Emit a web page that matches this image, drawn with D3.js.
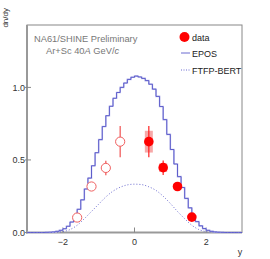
<!DOCTYPE html>
<html>
<head>
<meta charset="utf-8">
<script src="https://cdn.jsdelivr.net/npm/d3@7"></script>
<style>
  body { margin: 0; background: #fff; }
  text { font-family: "Liberation Sans", Arial, sans-serif; }
</style>
</head>
<body>
<div id="chart"></div>
<script>
// measured points (filled) and their reflection (open)
const dataX = [0.4, 0.8, 1.2, 1.6];
const dataY = [0.626, 0.447, 0.317, 0.106];
const dataStat = [0.108, 0.05, 0.022, 0.015];
const dataSys = [0.075, 0.03, 0.02, 0.012];
const reflX = [-0.4, -0.8, -1.2, -1.6];
const reflY = [0.626, 0.445, 0.317, 0.103];
const reflStat = [0.108, 0.05, 0.022, 0.015];

// EPOS histogram, 60 bins of 0.1 from -3 to 3
const eposBins = [
  0, 0, 0, 0, 0, 0.001, 0.002, 0.004, 0.008, 0.015,
  0.026, 0.043, 0.072, 0.108, 0.16, 0.225, 0.3, 0.375, 0.46, 0.55,
  0.64, 0.73, 0.805, 0.87, 0.925, 0.965, 1.0, 1.03, 1.055, 1.07,
  1.078, 1.072, 1.062, 1.047, 1.022, 0.988, 0.938, 0.868, 0.778, 0.676,
  0.572, 0.472, 0.385, 0.31, 0.235, 0.17, 0.115, 0.075, 0.046, 0.027,
  0.015, 0.008, 0.004, 0.002, 0.001, 0, 0, 0, 0, 0
];

// FTFP-BERT curve
const ftfpX = [-3, -2.4, -2.2, -2.0, -1.8, -1.6, -1.4, -1.2, -1.0, -0.8, -0.6, -0.4, -0.2, 0,
  0.2, 0.4, 0.6, 0.8, 1.0, 1.2, 1.4, 1.6, 1.8, 2.0, 2.2, 2.4, 3];
const ftfpY = [0, 0, 0.002, 0.006, 0.02, 0.05, 0.095, 0.145, 0.195, 0.245, 0.285, 0.312, 0.328, 0.333,
  0.33, 0.315, 0.29, 0.25, 0.2, 0.145, 0.095, 0.05, 0.02, 0.006, 0.002, 0, 0];

const xTicks = [-2, 0, 2];
const yTicks = [0, 0.5, 1.0];

const width = 270, height = 259;
const padL = 27, padR = 242, padT = 25, padB = 232.5;

const svg = d3.select("#chart").append("svg")
  .attr("width", width)
  .attr("height", height);

const x = d3.scaleLinear().domain([-3, 3]).range([padL, padR]);
const y = d3.scaleLinear().domain([0, 1.43]).range([padB, padT]);

// frame
svg.append("rect")
  .attr("x", padL).attr("y", padT)
  .attr("width", padR - padL).attr("height", padB - padT)
  .attr("fill", "none").attr("stroke", "#888").attr("stroke-width", 1);

svg.append("line").attr("x1", padL).attr("x2", padL).attr("y1", padT).attr("y2", padB + 1)
  .attr("stroke", "#999").attr("stroke-width", 2);
svg.append("line").attr("x1", padL - 1).attr("x2", padR).attr("y1", padB).attr("y2", padB)
  .attr("stroke", "#999").attr("stroke-width", 2);

// ticks
const tickG = svg.append("g").attr("font-size", 9).attr("fill", "#333");
yTicks.forEach(t => {
  tickG.append("line").attr("x1", padL - 2).attr("x2", padL + 4)
    .attr("y1", y(t)).attr("y2", y(t)).attr("stroke", "#888");
  tickG.append("text").attr("x", padL - 2).attr("y", y(t) + 3.2)
    .attr("text-anchor", "end").text(d3.format(".1f")(t));
});
xTicks.forEach(t => {
  tickG.append("line").attr("x1", x(t)).attr("x2", x(t))
    .attr("y1", padB).attr("y2", padB - 5).attr("stroke", "#888");
  tickG.append("text").attr("x", x(t)).attr("y", padB + 12)
    .attr("text-anchor", "middle").text(t < 0 ? "\u2212" + Math.abs(t) : t);
});

// axis titles
svg.append("text").attr("transform", "translate(7.5,8) rotate(-90)")
  .attr("text-anchor", "end").attr("font-size", 8).attr("fill", "#333").text("dn/dy");
svg.append("text").attr("x", 240).attr("y", 255)
  .attr("text-anchor", "middle").attr("font-size", 9).attr("fill", "#333").text("y");

// EPOS step histogram
const eposPts = [];
eposBins.forEach((v, i) => {
  eposPts.push([-3 + i * 0.1, v]);
  eposPts.push([-3 + (i + 1) * 0.1, v]);
});
const line = d3.line().x(d => x(d[0])).y(d => y(d[1]));
svg.append("path").datum(eposPts).attr("d", line)
  .attr("fill", "none").attr("stroke", "#c4c4f0").attr("stroke-width", 1.6);
svg.append("path").datum(eposPts).attr("d", line)
  .attr("fill", "none").attr("stroke", "#5252c6").attr("stroke-width", 0.9);

// FTFP-BERT dotted
svg.append("path").datum(ftfpX.map((v, i) => [v, ftfpY[i]]))
  .attr("d", d3.line().x(d => x(d[0])).y(d => y(d[1])).curve(d3.curveMonotoneX))
  .attr("fill", "none").attr("stroke", "#6a6ad0").attr("stroke-width", 1)
  .attr("stroke-dasharray", "1,2");

// systematic boxes
svg.selectAll(".sys").data(dataX).enter().append("rect")
  .attr("x", d => x(d) - 4).attr("width", 8)
  .attr("y", (d, i) => y(dataY[i] + dataSys[i]))
  .attr("height", (d, i) => y(dataY[i] - dataSys[i]) - y(dataY[i] + dataSys[i]))
  .attr("fill", "#f7a8a8");

// error bars
function errBars(xs, ys, es, col) {
  xs.forEach((xv, i) => {
    svg.append("line").attr("x1", x(xv)).attr("x2", x(xv))
      .attr("y1", y(ys[i] + es[i])).attr("y2", y(ys[i] - es[i]))
      .attr("stroke", col).attr("stroke-width", 1.2);
  });
}
errBars(reflX, reflY, reflStat, "#f05050");
errBars(dataX, dataY, dataStat, "#ff2020");

// open markers
svg.selectAll(".open").data(reflX).enter().append("circle")
  .attr("cx", d => x(d)).attr("cy", (d, i) => y(reflY[i])).attr("r", 4.6)
  .attr("fill", "#fff").attr("stroke", "#f06060").attr("stroke-width", 1);

// filled markers
svg.selectAll(".fill").data(dataX).enter().append("circle")
  .attr("cx", d => x(d)).attr("cy", (d, i) => y(dataY[i])).attr("r", 4.8)
  .attr("fill", "#ff0000");

// header text
const head = svg.append("g").attr("font-size", 9.3).attr("fill", "#777");
head.append("text").attr("x", 34).attr("y", 41.5).text("NA61/SHINE Preliminary");
const l2 = head.append("text").attr("x", 46).attr("y", 53.5);
l2.append("tspan").text("Ar+Sc 40");
l2.append("tspan").attr("font-style", "italic").text("A");
l2.append("tspan").text(" GeV/");
l2.append("tspan").attr("font-style", "italic").text("c");

// legend
const leg = svg.append("g").attr("font-size", 9).attr("fill", "#222");
leg.append("circle").attr("cx", 184.5).attr("cy", 37).attr("r", 5).attr("fill", "#ff0000");
leg.append("text").attr("x", 192).attr("y", 41).text("data");
leg.append("line").attr("x1", 181).attr("x2", 190).attr("y1", 53).attr("y2", 53)
  .attr("stroke", "#6a6ad0").attr("stroke-width", 1);
leg.append("text").attr("x", 192).attr("y", 57).text("EPOS");
leg.append("line").attr("x1", 181).attr("x2", 190).attr("y1", 70).attr("y2", 70)
  .attr("stroke", "#6a6ad0").attr("stroke-width", 1).attr("stroke-dasharray", "1,1.5");
leg.append("text").attr("x", 192).attr("y", 74).text("FTFP-BERT");
</script>
</body>
</html>
